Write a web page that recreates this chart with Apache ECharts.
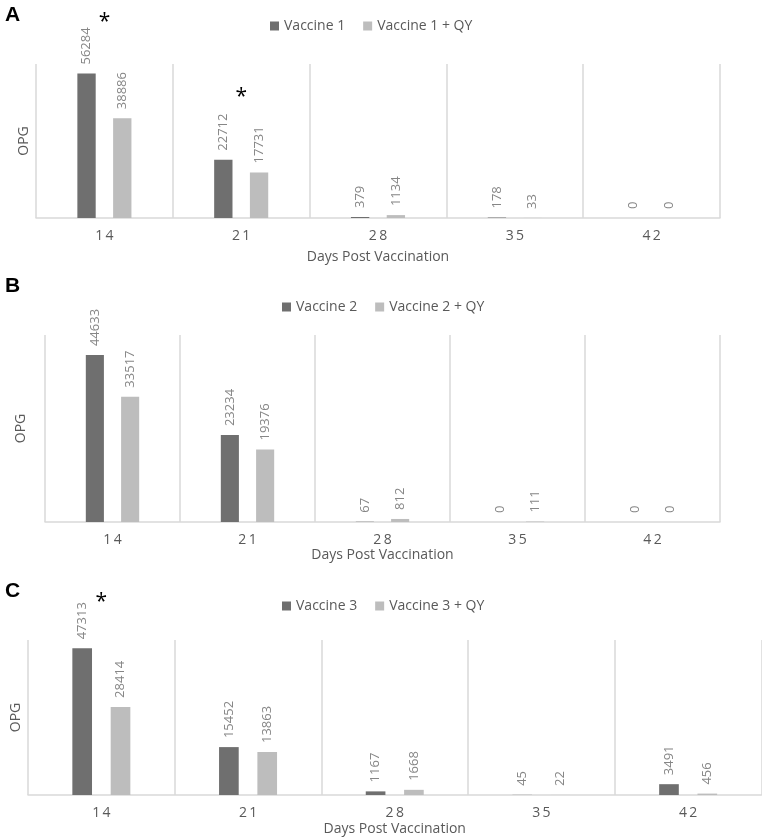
<!DOCTYPE html>
<html>
<head>
<meta charset="utf-8">
<script src="https://cdn.jsdelivr.net/npm/echarts@6/dist/echarts.min.js"></script>
<style>
  html, body { margin: 0; padding: 0; background: #fff; }
  #chart { width: 762px; height: 839px; }
</style>
</head>
<body>
<div id="chart"></div>
<script>
// data
const days = ['14', '21', '28', '35', '42']
const vaccine1 = [56284, 22712, 379, 178, 0]
const vaccine1QY = [38886, 17731, 1134, 33, 0]
const vaccine2 = [44633, 23234, 67, 0, 0]
const vaccine2QY = [33517, 19376, 812, 111, 0]
const vaccine3 = [47313, 15452, 1167, 45, 3491]
const vaccine3QY = [28414, 13863, 1668, 22, 456]
const panelNames = ['Vaccine 1', 'Vaccine 2', 'Vaccine 3']
const panelLetters = ['A', 'B', 'C']
const yMax = [60000, 50000, 50000]
// significance stars: [panel, day]
const stars = [[0, '14'], [0, '21'], [2, '14']]

const FONT = '"Open Sans", sans-serif'
const DARK = '#6f6f6f'
const LIGHT = '#bdbdbd'
const LINE = '#d9d9d9'

const panelData = [
  [vaccine1, vaccine1QY],
  [vaccine2, vaccine2QY],
  [vaccine3, vaccine3QY],
]

// layout per panel
const grids = [
  { left: 36, right: 42, top: 64, height: 154 },
  { left: 45, right: 42, top: 335, height: 187 },
  { left: 28, right: 0.5, top: 640, height: 155 },
]
const legendPos = [{ left: 265, top: 14 }, { left: 277, top: 295 }, { left: 277, top: 594 }]
const nameGapX = [32, 25, 27]
const nameGapY = [5, 17, 5]
const starOffset = { '0-14': [18, -52], '0-21': [18, -63], '2-14': [19, -46] }

const dataLabel = {
  show: true,
  position: 'top',
  rotate: 90,
  align: 'left',
  verticalAlign: 'middle',
  distance: 9,
  color: '#868686',
  fontFamily: FONT,
  fontSize: 13,
}

const chart = echarts.init(document.getElementById('chart'))

const series = []
panelData.forEach((pair, i) => {
  const name = panelNames[i]
  const myStars = stars.filter(s => s[0] === i)
  series.push({
    name: name,
    type: 'bar',
    xAxisIndex: i,
    yAxisIndex: i,
    data: pair[0],
    barWidth: '13.4%',
    barGap: '95%',
    itemStyle: { color: DARK },
    label: dataLabel,
    markPoint: myStars.length ? {
      symbol: 'rect',
      symbolSize: 0,
      silent: true,
      label: {
        show: true,
        formatter: '*',
        color: '#000',
        fontSize: 21,
        fontFamily: FONT,
      },
      data: myStars.map(s => {
        const idx = days.indexOf(s[1])
        return {
          coord: [s[1], pair[0][idx]],
          label: { offset: starOffset[i + '-' + s[1]] },
        }
      }),
    } : undefined,
  })
  series.push({
    name: name + ' + QY',
    type: 'bar',
    xAxisIndex: i,
    yAxisIndex: i,
    data: pair[1],
    barWidth: '13.4%',
    barGap: '95%',
    itemStyle: { color: LIGHT },
    label: dataLabel,
  })
})

chart.setOption({
  animation: false,
  textStyle: { fontFamily: FONT },
  grid: grids,
  legend: panelNames.map((n, i) => ({
    data: [n, n + ' + QY'],
    left: legendPos[i].left,
    top: legendPos[i].top,
    icon: 'rect',
    itemWidth: 9,
    itemHeight: 9,
    itemGap: 18,
    textStyle: { color: '#595959', fontSize: 14, fontFamily: FONT },
  })),
  xAxis: panelNames.map((n, i) => ({
    type: 'category',
    gridIndex: i,
    data: days,
    name: 'Days Post Vaccination',
    nameLocation: 'middle',
    nameGap: nameGapX[i],
    nameTextStyle: { color: '#595959', fontSize: 14, fontFamily: FONT },
    axisLine: { lineStyle: { color: LINE, width: 1.5 } },
    axisTick: { show: false },
    axisLabel: {
      color: '#595959',
      fontSize: 14,
      margin: 11,
      formatter: v => v.split('').join('\u2009'),
    },
    splitLine: { show: true, interval: 0, lineStyle: { color: LINE, width: 1.5 } },
  })),
  yAxis: panelNames.map((n, i) => ({
    type: 'value',
    gridIndex: i,
    min: 0,
    max: yMax[i],
    name: 'OPG',
    nameLocation: 'middle',
    nameGap: nameGapY[i],
    nameTextStyle: { color: '#595959', fontSize: 14, fontFamily: FONT },
    axisLine: { show: false },
    axisTick: { show: false },
    axisLabel: { show: false },
    splitLine: { show: false },
  })),
  graphic: panelLetters.map((t, i) => ({
    type: 'text',
    left: 5,
    top: [5, 276, 581][i],
    style: {
      text: t,
      fill: '#000',
      font: 'bold 21px "Liberation Sans", Arial, sans-serif',
    },
  })),
  series: series,
})
</script>
</body>
</html>
